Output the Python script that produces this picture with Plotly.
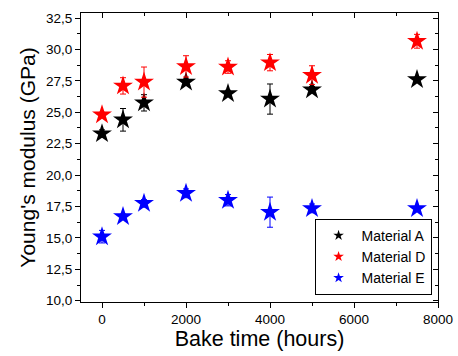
import plotly.graph_objects as go

bake_time = [0, 500, 1000, 2000, 3000, 4000, 5000, 7500]
mat_a = [23.3, 24.4, 25.75, 27.4, 26.5, 26.05, 26.8, 27.6]
mat_a_err = [0.3, 0.9, 0.65, 0.25, 0.25, 1.2, 0.25, 0.2]
mat_d = [24.8, 27.1, 27.4, 28.65, 28.6, 28.95, 27.95, 30.65]
mat_d_err = [0.2, 0.65, 1.2, 0.85, 0.5, 0.65, 0.75, 0.55]
mat_e = [15.1, 16.7, 17.75, 18.55, 18.0, 17.05, 17.35, 17.35]
mat_e_err = [0.5, 0.2, 0.3, 0.35, 0.45, 1.2, 0.35, 0.15]

names = ["Material A", "Material D", "Material E"]
colors = ["black", "red", "blue"]

xr = [-500, 8000]
yr = [9.9, 32.9]

fig = go.Figure()
for i, (name, vals, errs) in enumerate(zip(names, [mat_a, mat_d, mat_e], [mat_a_err, mat_d_err, mat_e_err])):
    fig.add_trace(go.Scatter(
        x=bake_time, y=vals, mode="markers", name=name, showlegend=False,
        marker=dict(symbol="star", size=15, color=colors[i], line=dict(width=0)),
        error_y=dict(type="data", array=errs, visible=True, color=colors[i], thickness=1, width=3),
        xaxis="x2" if i == 2 else "x", yaxis="y2" if i == 2 else "y",
    ))
# legend entries with smaller symbols
for i, name in enumerate(names):
    fig.add_trace(go.Scatter(
        x=[None], y=[None], mode="markers", name=name,
        marker=dict(symbol="star", size=8, color=colors[i], line=dict(width=0)),
    ))

font = "Liberation Sans, Arial, sans-serif"
ticks_y = [10, 12.5, 15, 17.5, 20, 22.5, 25, 27.5, 30, 32.5]
ticks_x = [0, 2000, 4000, 6000, 8000]
fig.update_layout(
    width=458, height=356,
    margin=dict(l=81, r=20, t=13, b=54, autoexpand=False),
    paper_bgcolor="white", plot_bgcolor="white",
    separators=",.",
    font=dict(family=font, color="black", size=13.5),
    showlegend=True,
    legend=dict(x=0.982, xanchor="right", y=0.025, yanchor="bottom",
                bordercolor="black", borderwidth=1, bgcolor="white",
                font=dict(size=14, family=font), itemsizing="trace",
                itemwidth=36, tracegroupgap=0),
    xaxis=dict(range=xr, tickvals=ticks_x, ticks="outside", ticklen=5, automargin=False,
               tickcolor="black", showline=True, linecolor="black", linewidth=1, mirror=True,
               showgrid=False, zeroline=False,
               minor=dict(dtick=1000, tick0=0, ticks="outside", ticklen=3, tickcolor="black"),
               title=dict(text="Bake time (hours)", font=dict(size=21.5), standoff=1),
               tickfont=dict(size=13.5)),
    yaxis=dict(range=yr, tickvals=ticks_y, tickformat=".1f", automargin=False,
               ticks="outside", ticklen=5, tickcolor="black", showline=True, linecolor="black",
               linewidth=1, mirror=True, showgrid=False, zeroline=False,
               minor=dict(dtick=1.25, tick0=10, ticks="outside", ticklen=3, tickcolor="black"),
               title=dict(text="Young's modulus (GPa)", font=dict(size=21), standoff=4),
               tickfont=dict(size=13.5)),
    xaxis2=dict(range=xr, overlaying="x", side="top", anchor="y2", tickvals=ticks_x, automargin=False,
                ticks="inside", ticklen=5, tickcolor="black", showticklabels=False, showgrid=False,
                zeroline=False, showline=False,
                minor=dict(dtick=1000, tick0=0, ticks="inside", ticklen=3, tickcolor="black")),
    yaxis2=dict(range=yr, overlaying="y", side="right", anchor="x2", tickvals=ticks_y, automargin=False,
                ticks="inside", ticklen=5, tickcolor="black", showticklabels=False, showgrid=False,
                zeroline=False, showline=False,
                minor=dict(dtick=1.25, tick0=10, ticks="inside", ticklen=3, tickcolor="black")),
)
fig.write_html("out.html")
